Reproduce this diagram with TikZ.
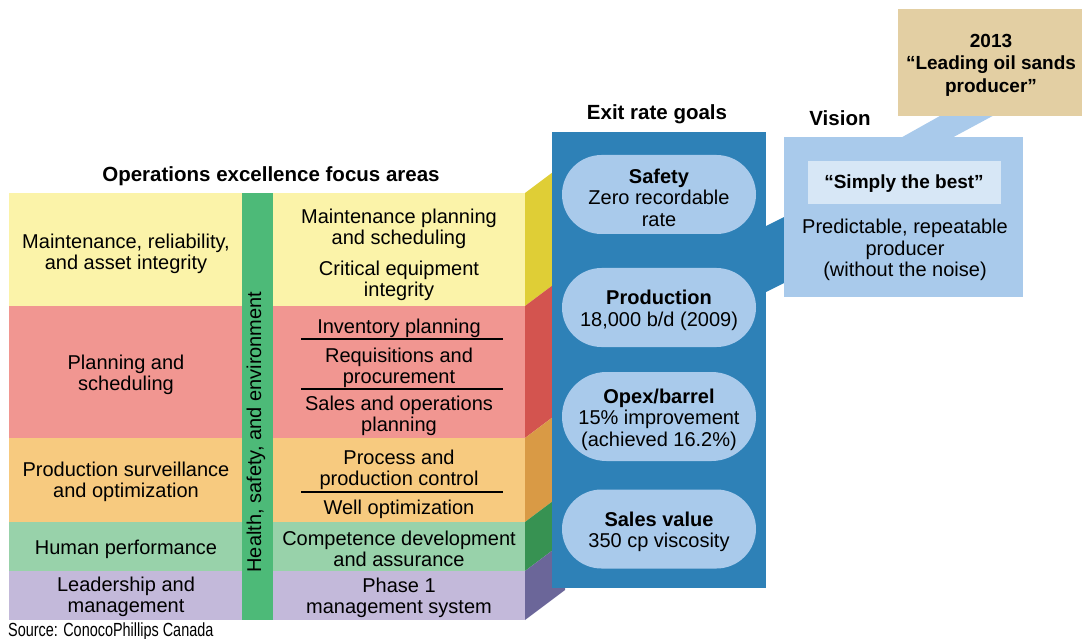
\documentclass[tikz,border=0pt]{standalone}
\usepackage{fontspec}
\setmainfont{Liberation Sans}
\usetikzlibrary{shapes.misc}

% row colours: light front face, dark side face
\definecolor{maintlight}{HTML}{FBF3A9}
\definecolor{maintdark}{HTML}{DFCE36}
\definecolor{planlight}{HTML}{F19691}
\definecolor{plandark}{HTML}{D3544F}
\definecolor{prodlight}{HTML}{F7CA7F}
\definecolor{proddark}{HTML}{D99A45}
\definecolor{humanlight}{HTML}{98D2AA}
\definecolor{humandark}{HTML}{379252}
\definecolor{leadlight}{HTML}{C3B9DA}
\definecolor{leaddark}{HTML}{6B6699}
\definecolor{hsegreen}{HTML}{4DBA78}
\definecolor{goalblue}{HTML}{2E81B7}
\definecolor{pillblue}{HTML}{A9CAEB}
\definecolor{visionpale}{HTML}{D7E7F6}
\definecolor{goldtan}{HTML}{E3CFA3}

\tikzset{
  txt/.style={align=center, inner sep=0pt, yshift=-2pt, font=\fontsize{20}{21.5}\selectfont},
  headtxt/.style={align=center, inner sep=0pt, yshift=-2pt, font=\fontsize{20.5}{22.5}\selectfont\bfseries},
  quotetxt/.style={headtxt, font=\fontsize{19}{22.5}\selectfont\bfseries},
  pill/.style={rounded rectangle, fill=pillblue, minimum width=194pt, minimum height=79pt,
    inner sep=0pt},
  rowrule/.style={line width=1.1pt},
}

\begin{document}
\begin{tikzpicture}[x=1pt,y=-1pt]
\useasboundingbox (0,0) rectangle (1082,639);

% side faces of the block
\fill[maintdark] (525,193) -- (565,163) -- (565,276) -- (525,306) -- cycle;
\fill[plandark] (525,306) -- (565,276) -- (565,408) -- (525,438) -- cycle;
\fill[proddark] (525,438) -- (565,408) -- (565,492) -- (525,522) -- cycle;
\fill[humandark] (525,522) -- (565,492) -- (565,541) -- (525,571) -- cycle;
\fill[leaddark] (525,571) -- (565,541) -- (565,590) -- (525,620) -- cycle;

% front faces
\fill[maintlight] (9,193) rectangle (525,306);
\fill[planlight] (9,306) rectangle (525,438);
\fill[prodlight] (9,438) rectangle (525,522);
\fill[humanlight] (9,522) rectangle (525,571);
\fill[leadlight] (9,571) rectangle (525,620);
\fill[hsegreen] (242,193) rectangle (273,620);

\node[headtxt] (focus) at (271,174) {Operations excellence focus areas};

% focus areas
\node[txt] (maint) at (126,252) {Maintenance, reliability,\\and asset integrity};
\node[txt] (plan) at (126,373) {Planning and\\scheduling};
\node[txt] (prod) at (126,480) {Production surveillance\\and optimization};
\node[txt] (human) at (126,547) {Human performance};
\node[txt] (lead) at (126,595) {Leadership and\\management};

\node[txt, rotate=90, yshift=2pt] (hse) at (258,430) {Health, safety, and environment};

% programs
\node[txt] (mplan) at (399,227) {Maintenance planning\\and scheduling};
\node[txt] (crit) at (399,279) {Critical equipment\\integrity};
\node[txt] (inv) at (399,326) {Inventory planning};
\node[txt] (req) at (399,366) {Requisitions and\\procurement};
\node[txt] (sop) at (399,414) {Sales and operations\\planning};
\node[txt] (pctrl) at (399,468) {Process and\\production control};
\node[txt] (well) at (399,507) {Well optimization};
\node[txt] (comp) at (399,547) {Competence development\\and assurance};
\node[txt] (phase) at (399,596) {Phase 1\\management system};

\draw[rowrule] (301,339) -- (503,339);
\draw[rowrule] (301,389) -- (503,389);
\draw[rowrule] (301,492) -- (503,492);

% bands between the boxes
\fill[goalblue] (760,229) -- (790,214) -- (790,280) -- (760,295) -- cycle;
\fill[pillblue] (897,140) -- (948,140) -- (1000,112) -- (947,112) -- cycle;

% exit rate goals
\node[headtxt] (exit) at (657,112) {Exit rate goals};
\fill[goalblue] (552,132) rectangle (766,588);
\node[pill] (safety) at (659,194.5) {};
\node[pill] (production) at (659,307.5) {};
\node[pill, minimum height=89pt] (opex) at (659,416.5) {};
\node[pill] (sales) at (659,529) {};
\node[txt, yshift=-1pt] (safetytxt) at (safety) {{\bfseries Safety}\\Zero recordable\\rate};
\node[txt, yshift=-1pt] (productiontxt) at (production) {{\bfseries Production}\\18,000 b/d (2009)};
\node[txt, yshift=-1pt] (opextxt) at (opex) {{\bfseries Opex/barrel}\\15\% improvement\\(achieved 16.2\%)};
\node[txt, yshift=-1pt] (salestxt) at (sales) {{\bfseries Sales value}\\350 cp viscosity};

% vision
\node[headtxt] (vision) at (840,116) {Vision};
\fill[pillblue] (784,137) rectangle (1023,297);
\fill[visionpale] (808,161) rectangle (1001,204);
\node[quotetxt] (best) at (904,182) {``Simply the best''};
\node[txt] (predict) at (905,248) {Predictable, repeatable\\producer\\(without the noise)};

% 2013 goal
\fill[goldtan] (898,9) rectangle (1082,116);
\node[quotetxt] (leading) at (991,63) {2013\\``Leading oil sands\\producer''};

\node[anchor=base west, inner sep=0pt] (source) at (8,636)
  {\fontsize{19}{19}\selectfont\scalebox{0.76}[1]{Source: ConocoPhillips Canada}};
\end{tikzpicture}
\end{document}
